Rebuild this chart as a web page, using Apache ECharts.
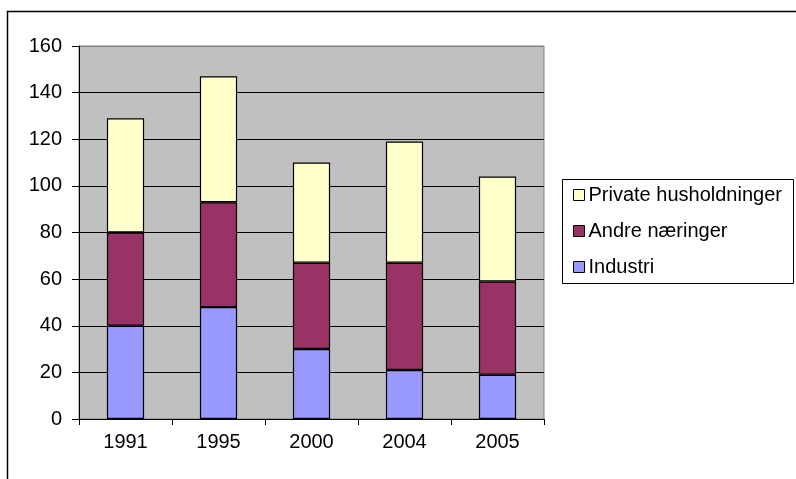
<!DOCTYPE html>
<html lang="da">

<head>
    <meta charset="UTF-8">
    <title>Stablet søjlediagram</title>
    <script src="https://cdn.jsdelivr.net/npm/echarts@6/dist/echarts.min.js"></script>
    <style>
        html, body { margin: 0; padding: 0; background: #fff; }
        #main { width: 796px; height: 479px; }
    </style>
</head>

<body>
    <div id="main"></div>
    <script>
        // data
        var years = ['1991', '1995', '2000', '2004', '2005']
        var industri = [40, 48, 30, 21, 19]
        var andre = [40, 45, 37, 46, 40]
        var privat = [49, 54, 43, 52, 45]
        var legendOrder = ['Private husholdninger', 'Andre næringer', 'Industri']

        var font = '"Liberation Sans", Arial, sans-serif'
        var myChart = echarts.init(document.getElementById('main'))

        function barSeries(name, data, color) {
            return {
                name: name,
                type: 'bar',
                stack: 'total',
                barWidth: '40%',
                data: data,
                itemStyle: { color: color, borderColor: '#000', borderWidth: 1.2 }
            }
        }

        var option = {
            animation: false,
            textStyle: { fontFamily: font },
            graphic: [{
                type: 'rect', // ramme rundt om hele diagrammet
                shape: { x: 7.5, y: 11.5, width: 820, height: 500 },
                style: { fill: 'none', stroke: '#000', lineWidth: 1.5 },
                silent: true
            }, {
                type: 'rect', // ramme om forklaringen
                shape: { x: 562.5, y: 179.5, width: 231, height: 104 },
                style: { fill: '#fff', stroke: '#000', lineWidth: 1 },
                z: -1,
                silent: true
            }],
            grid: {
                left: 79, top: 46, right: 252, bottom: 60,
                show: true,
                backgroundColor: '#C0C0C0',
                borderColor: '#808080',
                borderWidth: 1
            },
            legend: {
                orient: 'vertical',
                left: 568, top: 180,
                data: legendOrder,
                itemWidth: 11, itemHeight: 11,
                itemGap: 16,
                icon: 'rect',
                itemStyle: { borderColor: '#000', borderWidth: 1 },
                textStyle: { fontFamily: font, fontSize: 20, color: '#000', padding: [0, 0, 0, -1] }
            },
            xAxis: {
                type: 'category',
                data: years,
                axisLine: { lineStyle: { color: '#000', width: 1 } },
                axisTick: { show: true, length: 6, lineStyle: { color: '#000' } },
                axisLabel: { color: '#000', fontSize: 20, fontFamily: font, margin: 13 },
                splitLine: { show: false }
            },
            yAxis: {
                type: 'value',
                min: 0, max: 160, interval: 20,
                axisLine: { show: true, lineStyle: { color: '#000', width: 1 } },
                axisTick: { show: true, length: 7, lineStyle: { color: '#000' } },
                axisLabel: { color: '#000', fontSize: 20, fontFamily: font, margin: 17 },
                splitLine: {
                    show: true,
                    lineStyle: {
                        color: ['#000', '#000', '#000', '#000', '#000', '#000', '#000', '#000', '#808080'],
                        width: 1
                    }
                }
            },
            series: [
                barSeries('Industri', industri, '#9999FF'),
                barSeries('Andre næringer', andre, '#993366'),
                barSeries('Private husholdninger', privat, '#FFFFCC')
            ]
        }
        myChart.setOption(option)
    </script>
</body>

</html>
